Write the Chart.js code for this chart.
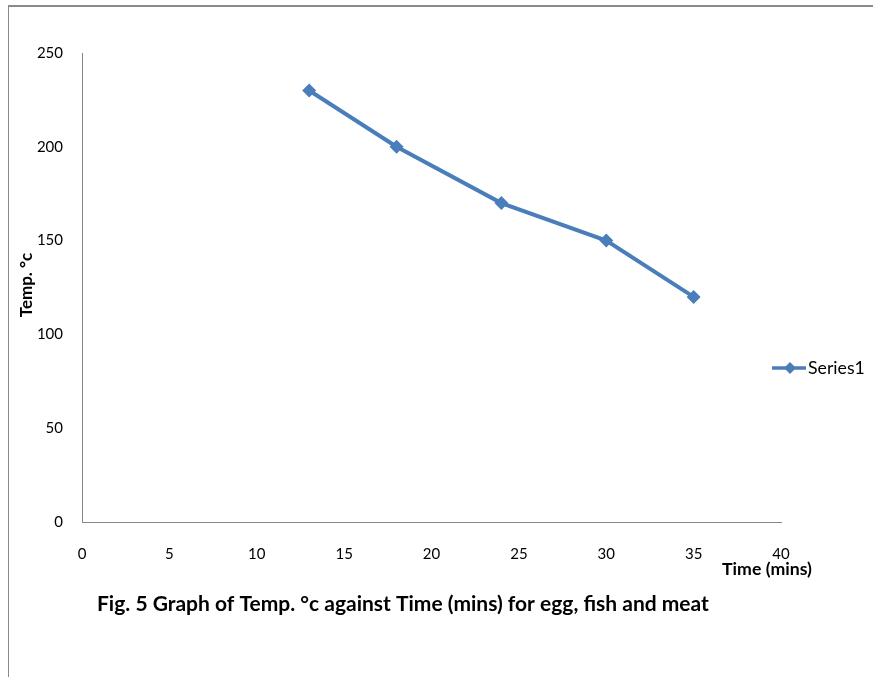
<!DOCTYPE html>
<html>
<head>
<meta charset="utf-8">
<script src="https://cdn.jsdelivr.net/npm/chart.js@4.4.1/dist/chart.umd.min.js"></script>
<style>
  html, body { margin: 0; padding: 0; background: #fff; }
  #wrap { position: relative; width: 873px; height: 677px; overflow: hidden; }
  #frame { position: absolute; left: 8px; top: 5px; width: 900px; height: 700px;
           border-top: 2px solid #8a8a8a; border-left: 1px solid #8a8a8a; }
  canvas { position: absolute; left: 0; top: 0; }
</style>
</head>
<body>
<div id="wrap">
  <div id="frame"></div>
  <canvas id="tempChart" width="873" height="677"></canvas>
</div>
<script>
// valores
const timeMins = [13, 18, 24, 30, 35];
const tempC = [230, 200, 170, 150, 120];
const xTickValues = [0, 5, 10, 15, 20, 25, 30, 35, 40];
const yTickValues = [0, 50, 100, 150, 200, 250];

const seriesName = 'Series1';
const xTitle = 'Time (mins)';
const yTitle = 'Temp. °c';
const caption = 'Fig. 5 Graph of Temp. °c against Time (mins) for egg, fish and meat';

const blue = '#4a7ebb';
const axisGray = '#868686';
const fontFam = 'Lato, "Noto Sans", sans-serif';

// ajusta el tamaño de letra para que el texto ocupe el ancho dado
function fitFont(ctx, text, weight, width, maxSize) {
  ctx.font = weight + ' 20px ' + fontFam;
  let size = 20 * width / ctx.measureText(text).width;
  if (size > maxSize) size = maxSize;
  ctx.font = weight + ' ' + size.toFixed(1) + 'px ' + fontFam;
}

// textos extra: leyenda, títulos de ejes y pie de figura
const extraText = {
  id: 'extraText',
  afterDraw(chart) {
    const ctx = chart.ctx;
    ctx.save();

    // leyenda
    const ly = 368;
    ctx.strokeStyle = blue;
    ctx.lineWidth = 3.5;
    ctx.beginPath();
    ctx.moveTo(772, ly);
    ctx.lineTo(806, ly);
    ctx.stroke();
    ctx.fillStyle = blue;
    ctx.beginPath();
    ctx.moveTo(790, ly - 6);
    ctx.lineTo(796, ly);
    ctx.lineTo(790, ly + 6);
    ctx.lineTo(784, ly);
    ctx.closePath();
    ctx.fill();
    ctx.fillStyle = '#000';
    fitFont(ctx, seriesName, 'normal', 57, 18);
    ctx.textAlign = 'left';
    ctx.textBaseline = 'middle';
    ctx.fillText(seriesName, 808, ly);

    // título eje x
    fitFont(ctx, xTitle, 'bold', 90, 18);
    ctx.textAlign = 'center';
    ctx.fillText(xTitle, 767, 569);

    // título eje y
    ctx.save();
    ctx.translate(27, 285);
    ctx.rotate(-Math.PI / 2);
    fitFont(ctx, yTitle, 'bold', 74, 17);
    ctx.fillText(yTitle, 0, 0);
    ctx.restore();

    // pie de figura
    fitFont(ctx, caption, 'bold', 616, 21);
    ctx.textAlign = 'left';
    ctx.fillText(caption, 97, 604);

    ctx.restore();
  }
};

const ctx = document.getElementById('tempChart').getContext('2d');
new Chart(ctx, {
  type: 'line',
  data: {
    datasets: [{
      label: seriesName,
      data: timeMins.map((t, i) => ({ x: t, y: tempC[i] })),
      borderColor: blue,
      backgroundColor: blue,
      borderWidth: 4,
      pointStyle: 'rectRot',
      pointRadius: 7,
      pointBorderWidth: 0,
      tension: 0
    }]
  },
  options: {
    responsive: false,
    animation: false,
    layout: { padding: { left: 0, top: 53, right: 92, bottom: 110 } },
    plugins: { legend: { display: false }, tooltip: { enabled: false } },
    scales: {
      x: {
        type: 'linear',
        min: 0,
        max: 40,
        afterBuildTicks: s => { s.ticks = xTickValues.map(v => ({ value: v })); },
        afterFit: s => { s.height = 45; },
        grid: { display: false, drawTicks: false },
        border: { display: true, color: axisGray, width: 1 },
        ticks: { padding: 23, color: '#000', autoSkip: false, maxRotation: 0,
                 font: { family: fontFam, size: 15 } }
      },
      y: {
        min: 0,
        max: 250,
        afterBuildTicks: s => { s.ticks = yTickValues.map(v => ({ value: v })); },
        afterFit: s => { s.width = 82; },
        grid: { display: false, drawTicks: false },
        border: { display: true, color: axisGray, width: 1 },
        ticks: { padding: 19, color: '#000', font: { family: fontFam, size: 15 } }
      }
    }
  },
  plugins: [extraText]
});
</script>
</body>
</html>
